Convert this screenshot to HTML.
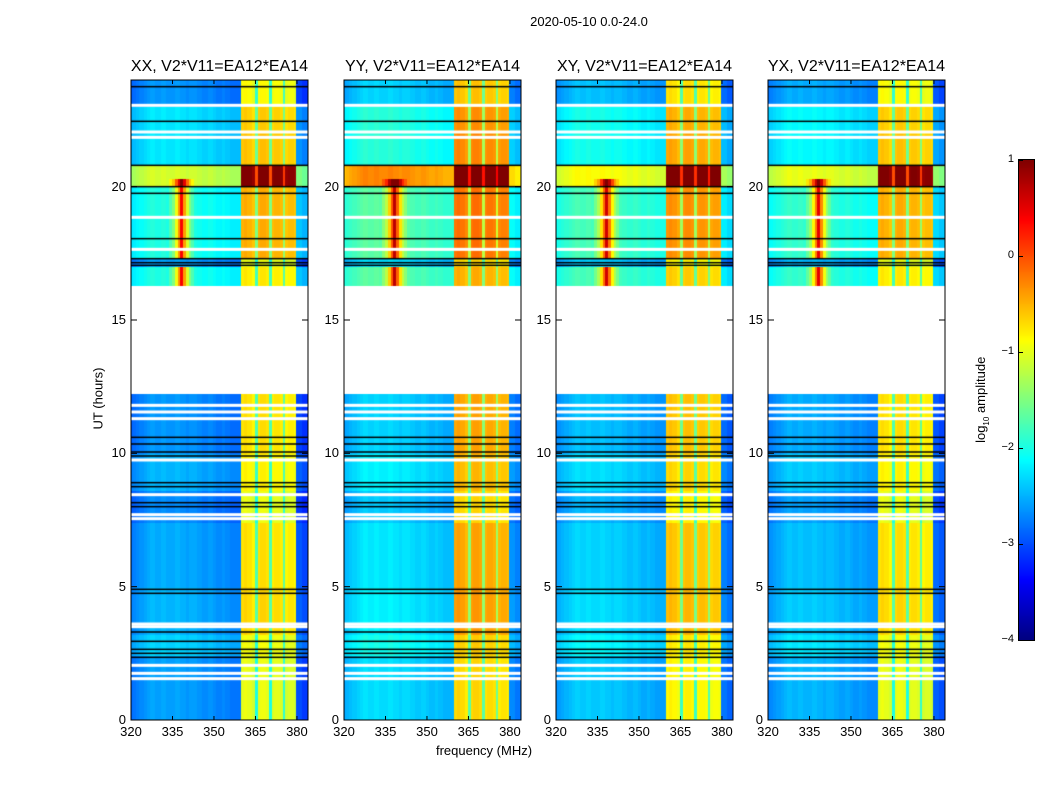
<!DOCTYPE html>
<html><head><meta charset="utf-8">
<style>
body{margin:0;background:#fff;width:1050px;height:800px;overflow:hidden;position:relative;font-family:"Liberation Sans","DejaVu Sans",sans-serif;color:#000}
.abs{position:absolute}
canvas{position:absolute}
</style></head>
<body>
<div class="abs" style="left:489px;top:14px;width:200px;text-align:center;font-size:13px">2020-05-10 0.0-24.0</div>
<div class="abs" style="left:48px;top:391px;width:100px;text-align:center;font-size:13px;transform:rotate(-90deg)">UT (hours)</div>
<div class="abs" style="left:384px;top:743px;width:200px;text-align:center;font-size:13px">frequency (MHz)</div>
<div class="abs" style="left:912px;top:391px;width:140px;text-align:center;font-size:13px;transform:rotate(-90deg)">log<sub style="font-size:8px">10</sub> amplitude</div>
<canvas id="cbar" width="15" height="480" style="left:1019px;top:160px"></canvas>
<div class="abs" style="left:1018px;top:159px;width:15px;height:480px;border:1px solid #000"></div>
<div id="root"></div>
<script>
// ---- data ----
const panelTitles = ["XX, V2*V11=EA12*EA14","YY, V2*V11=EA12*EA14","XY, V2*V11=EA12*EA14","YX, V2*V11=EA12*EA14"];
const panelLefts = [131,344,556,768];
const panelBgOffset = [0,0.3,0.2,0.1];
const panelBandOffset = [0,0.3,0.15,0];
const xTicks = [320,335,350,365,380];
const yTicks = [0,5,10,15,20];
const cbarTicks = [1,0,-1,-2,-3,-4];
// log10 amplitude per 1 MHz channel, 320..383
const spectrum = [
 -2.85,-2.8,-2.75,-2.7,-2.7,-2.65,-2.6,-2.55,-2.55,-2.6,
 -2.6,-2.55,-2.55,-2.6,-2.6,-2.6,-2.55,-2.55,-2.6,-2.6,
 -2.65,-2.6,-2.6,-2.6,-2.65,-2.65,-2.7,-2.7,-2.65,-2.65,
 -2.7,-2.75,-2.75,-2.7,-2.75,-2.75,-2.8,-2.8,-2.8,-2.8,
 -1.0,-0.95,-1.0,-1.0,-1.1,-2.0,-1.0,-0.95,-0.95,-1.0,
 -2.0,-1.05,-1.0,-1.0,-1.05,-1.9,-1.1,-1.05,-1.05,-1.1,
 -3.0,-3.0,-3.1,-3.1];
// time segments: [startHour, endHour, bgOffset, bandOffset]
const segStart = [0,2.4,3.2,5.0,7.4,8.6,10.0,16.3,17.0,17.3,20.0,20.8,22.0,23.0];
const segEnd   = [2.4,3.2,5.0,7.4,8.6,10.0,12.2,17.0,17.3,20.0,20.8,22.0,23.0,24.0];
const segBg    = [0,0.25,0.1,0.05,-0.1,0.1,-0.05,0.6,0,0.6,1.5,0.35,0.35,-0.05];
const segBand  = [0,0.05,0.3,0.25,0,0.15,0.25,0.2,0,0.5,2.0,0.4,0.35,0.1];
// spike near 338 MHz
const spikeCenter = 338;
const spikeProfile = [2.4,1.6,1.0,0.5,0.25];
const spikeStart = [16.3,17.3];
const spikeEnd = [17.0,20.3];
const whiteRows = [1.55,1.75,2.05,3.5,3.6,7.55,7.7,8.45,9.75,11.3,11.55,11.8,17.65,18.85,21.85,22.05,23.05];
const blackLines = [2.35,2.5,2.65,2.95,3.3,4.75,4.9,8.0,8.15,8.75,8.9,9.9,10.05,10.35,10.6,17.05,17.15,17.3,18.05,19.75,20.0,20.8,22.45,23.75];

// ---- scales ----
const PW=177, PH=640, TOP=80;
const F0=320, F1=384, T0=0, T1=24;
const xs = f => (f-F0)/(F1-F0)*PW;
const ys = t => PH-(t-T0)/(T1-T0)*PH;
const V0=-4, V1=1;
function jet(v){
  let x=Math.max(0,Math.min(1,(v-V0)/(V1-V0)));
  const c=t=>Math.round(255*Math.max(0,Math.min(1,t)));
  return `rgb(${c(1.5-Math.abs(4*x-3))},${c(1.5-Math.abs(4*x-2))},${c(1.5-Math.abs(4*x-1))})`;
}
function segIndex(t){for(let i=0;i<segStart.length;i++)if(t>=segStart[i]&&t<segEnd[i])return i;return -1;}
function spikeAt(t,f){
  for(let i=0;i<spikeStart.length;i++) if(t>=spikeStart[i]&&t<spikeEnd[i]){
    const d=Math.abs(f-spikeCenter); if(d<spikeProfile.length) return spikeProfile[d];}
  return 0;
}
const root=document.getElementById('root');
const dt=0.1;
panelLefts.forEach((L,p)=>{
  const cv=document.createElement('canvas');
  cv.width=PW;cv.height=PH;cv.style.left=L+'px';cv.style.top=TOP+'px';
  
  
  root.appendChild(cv);
  const g=cv.getContext('2d');
  for(let r=0;r<T1/dt;r++){
    const t=r*dt+dt/2, si=segIndex(t);
    if(si<0) continue;
    for(let ci=0;ci<spectrum.length;ci++){
      const f=F0+ci, band=f>=360&&f<380;
      let v=spectrum[ci]+(band?segBand[si]+panelBandOffset[p]:segBg[si]+panelBgOffset[p])+spikeAt(t,f);
      if(p===1&&si===10&&!band) v+=0.5;
      g.fillStyle=jet(v);
      const x0=Math.floor(xs(f)),x1=Math.ceil(xs(f+1));
      const y0=Math.floor(ys(r*dt+dt)),y1=Math.ceil(ys(r*dt));
      g.fillRect(x0,y0,x1-x0,y1-y0);
    }
  }
  whiteRows.forEach(t=>{g.fillStyle='#fff';g.fillRect(0,ys(t)-1.5,PW,3);});
  blackLines.forEach(t=>{g.fillStyle='#000';g.fillRect(0,ys(t)-0.75,PW,1.5);});
  const ns='http://www.w3.org/2000/svg';
  const s=document.createElementNS(ns,'svg');
  s.setAttribute('width',PW+2);s.setAttribute('height',PH+2);
  s.style.position='absolute';s.style.left=(L-1)+'px';s.style.top=(TOP-1)+'px';s.style.overflow='visible';
  
  
  let h=`<rect x="1" y="1" width="${PW}" height="${PH}" fill="none" stroke="#000" stroke-width="1"/>`;
  xTicks.forEach(v=>{const x=xs(v)+1;h+=`<line x1="${x}" y1="${PH+1}" x2="${x}" y2="${PH-3}" stroke="#000"/><line x1="${x}" y1="1" x2="${x}" y2="5" stroke="#000"/>`;});
  yTicks.forEach(v=>{const y=ys(v)+1;h+=`<line x1="1" y1="${y}" x2="7" y2="${y}" stroke="#000"/><line x1="${PW+1}" y1="${y}" x2="${PW-5}" y2="${y}" stroke="#000"/>`;});
  s.innerHTML=h;root.appendChild(s);
  const ti=document.createElement('div');ti.className='abs';
  ti.style.cssText=`left:${L-40}px;top:58px;width:${PW+80}px;text-align:center;font-size:16px`;
  ti.textContent=panelTitles[p];
  
  
  root.appendChild(ti);
  xTicks.forEach(v=>{const d=document.createElement('div');d.className='abs';
    d.style.cssText=`left:${L+xs(v)-20}px;top:724px;width:40px;text-align:center;font-size:13px`;d.textContent=v;
    
    
    root.appendChild(d);});
  yTicks.forEach(v=>{const d=document.createElement('div');d.className='abs';
    d.style.cssText=`left:${L-45}px;top:${TOP+ys(v)-8}px;width:40px;text-align:right;font-size:13px`;d.textContent=v;
    
    
    root.appendChild(d);});
});
const cb=document.getElementById('cbar').getContext('2d');
for(let i=0;i<480;i++){cb.fillStyle=jet(V1-(i+0.5)/480*(V1-V0));cb.fillRect(0,i,15,1);}
cbarTicks.forEach(v=>{const y=160+(V1-v)/(V1-V0)*480;const d=document.createElement('div');d.className='abs';
  d.style.cssText=`left:980px;top:${y-7}px;width:34px;text-align:right;font-size:11px`;d.textContent=v<0?'\u2212'+(-v):v;
  
  
  root.appendChild(d);
  const tk=document.createElement('div');tk.className='abs';tk.style.cssText=`left:1019px;top:${y}px;width:4px;height:1px;background:#000`;
  
  
  root.appendChild(tk);});
</script>
</body></html>
